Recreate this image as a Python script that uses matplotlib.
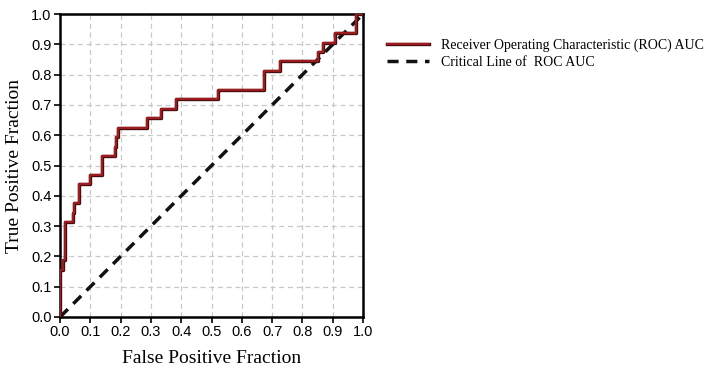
import matplotlib.pyplot as plt
import matplotlib.patheffects as pe
import numpy as np

# ROC step points
fpr = [0.0, 0.0, 0.011, 0.011, 0.0175, 0.0175, 0.042, 0.042, 0.046, 0.046,
       0.062, 0.062, 0.099, 0.099, 0.1375, 0.1375, 0.18, 0.18, 0.186, 0.186,
       0.19, 0.19, 0.286, 0.286, 0.332, 0.332, 0.382, 0.382, 0.52, 0.52,
       0.672, 0.672, 0.726, 0.726, 0.85, 0.85, 0.867, 0.867, 0.908, 0.908,
       0.976, 0.976, 1.0]
tpr = [0.0, 0.15625, 0.15625, 0.1875, 0.1875, 0.3125, 0.3125, 0.34375, 0.34375, 0.375,
       0.375, 0.4375, 0.4375, 0.46875, 0.46875, 0.53125, 0.53125, 0.5625, 0.5625, 0.59375,
       0.59375, 0.625, 0.625, 0.65625, 0.65625, 0.6875, 0.6875, 0.71875, 0.71875, 0.75,
       0.75, 0.8125, 0.8125, 0.84375, 0.84375, 0.875, 0.875, 0.90625, 0.90625, 0.9375,
       0.9375, 1.0, 1.0]
ticks = np.round(np.arange(0, 1.01, 0.1), 1)
tick_labels = ["%.1f" % t for t in ticks]

fig = plt.figure(figsize=(7.18, 3.68), dpi=100)
ax = fig.add_axes([0.0836, 0.1386, 0.422, 0.823])

ax.plot(fpr, tpr, color='#9b1b1e', lw=1.7, zorder=3,
        path_effects=[pe.Stroke(linewidth=2.4, foreground='#3a0a0a'), pe.Normal()],
        label='Receiver Operating Characteristic (ROC) AUC')
ax.plot([0, 1], [0, 1], color='#111111', lw=2.5, ls=(0, (3.2, 2.2)), zorder=2,
        label='Critical Line of  ROC AUC')

ax.set_xlim(0, 1)
ax.set_ylim(0, 1)
ax.set_xticks(ticks)
ax.set_yticks(ticks)
ax.set_xticklabels(tick_labels, fontfamily='Liberation Sans', fontsize=10.5)
ax.set_yticklabels(tick_labels, fontfamily='Liberation Sans', fontsize=10.5)
ax.tick_params(direction='out', length=4, width=1.2, pad=2)
ax.grid(True, color='#c8c8c8', ls=(0, (4, 3)), lw=0.9)
for s in ax.spines.values():
    s.set_linewidth(1.8)

ax.set_xlabel('False Positive Fraction', fontfamily='Liberation Serif', fontsize=14, labelpad=8)
ax.set_ylabel('True Positive Fraction', fontfamily='Liberation Serif', fontsize=14, labelpad=6)

leg = fig.legend(loc='upper left', bbox_to_anchor=(0.522, 0.93), frameon=False,
                 prop={'family': 'Liberation Serif', 'size': 10},
                 handlelength=3.0, handletextpad=0.9, labelspacing=0.3)

fig.savefig('out.png', dpi=100)
